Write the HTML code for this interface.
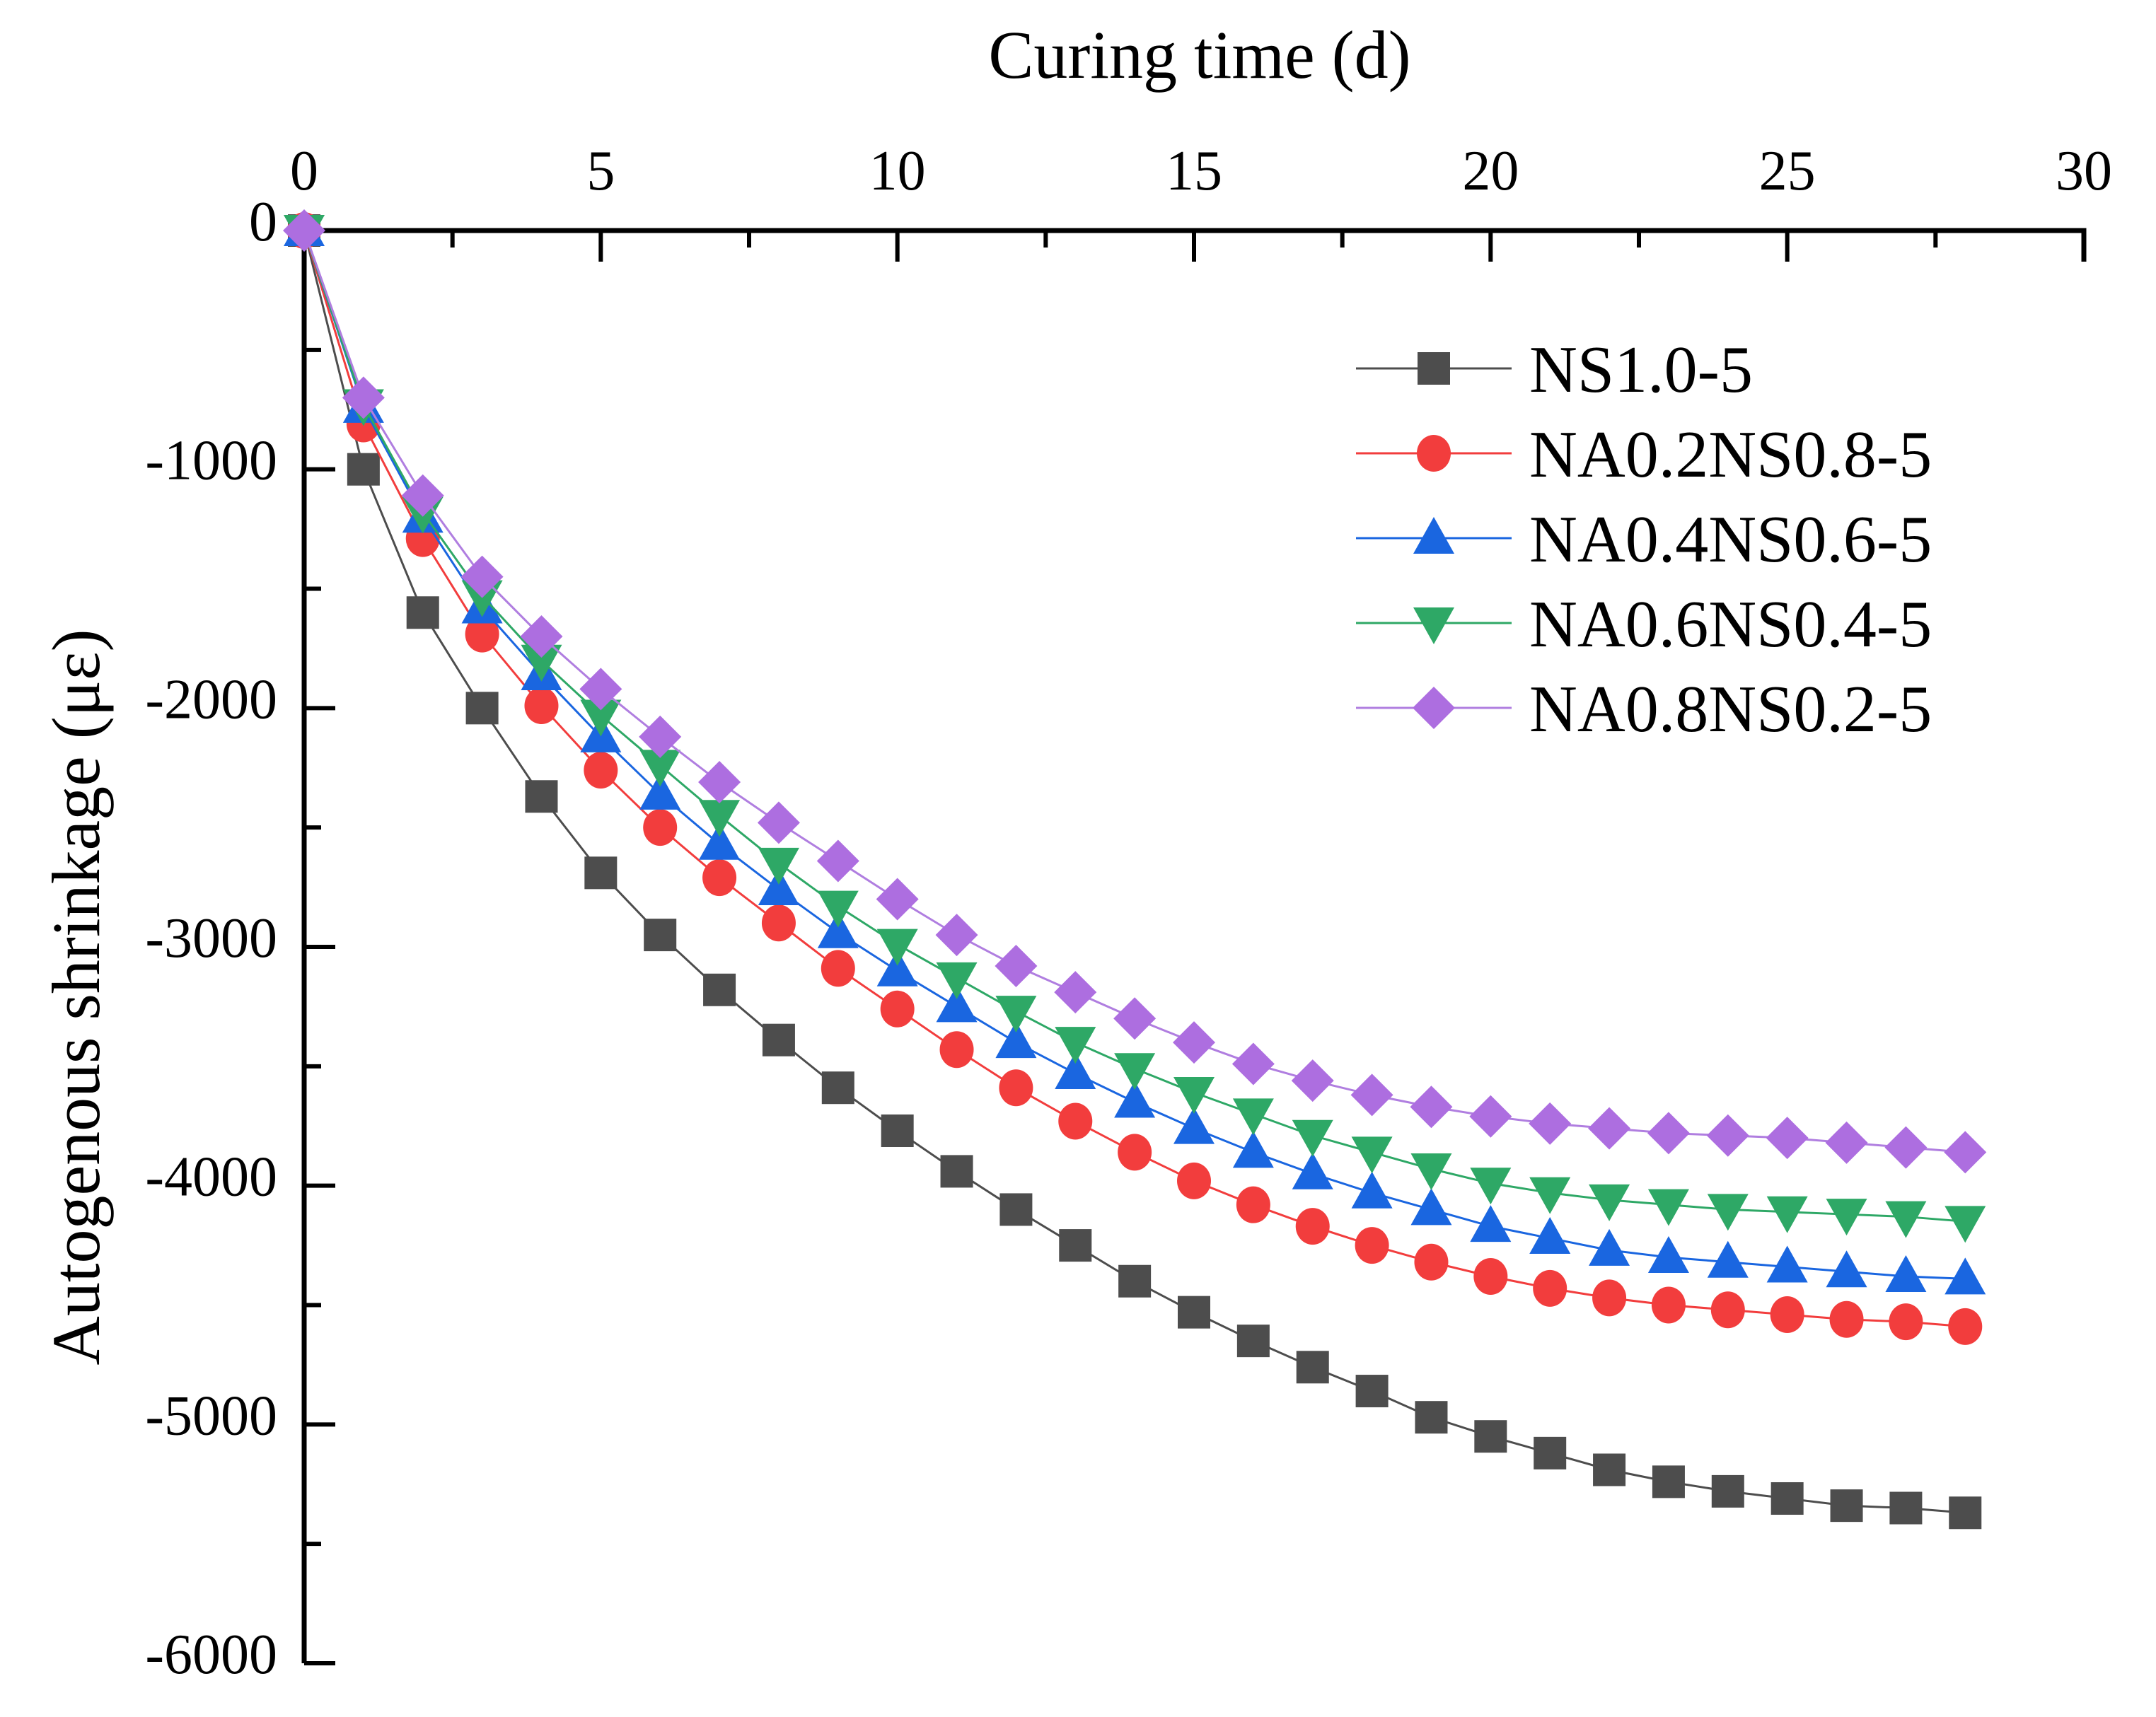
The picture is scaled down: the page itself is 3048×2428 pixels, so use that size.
<!DOCTYPE html>
<html><head><meta charset="utf-8"><style>
html,body{margin:0;padding:0;background:#fff;}
svg{display:block;font-family:"Liberation Serif",serif;}
</style></head><body>
<svg id="chart" width="3048" height="2428" viewBox="0 0 3048 2428" xmlns="http://www.w3.org/2000/svg"></svg>
<script>
const days = [0,1,2,3,4,5,6,7,8,9,10,11,12,13,14,15,16,17,18,19,20,21,22,23,24,25,26,27,28];
const seriesNames = ["NS1.0-5","NA0.2NS0.8-5","NA0.4NS0.6-5","NA0.6NS0.4-5","NA0.8NS0.2-5"];
const ns10 = [0,-1000,-1600,-2000,-2370,-2690,-2950,-3180,-3390,-3590,-3770,-3940,-4100,-4250,-4400,-4530,-4650,-4760,-4860,-4970,-5050,-5120,-5190,-5240,-5280,-5310,-5340,-5350,-5370];
const na02 = [0,-810,-1290,-1690,-1990,-2260,-2500,-2710,-2900,-3090,-3260,-3430,-3590,-3730,-3860,-3980,-4080,-4170,-4250,-4320,-4380,-4430,-4470,-4500,-4520,-4540,-4560,-4570,-4590];
const na04 = [0,-740,-1200,-1580,-1860,-2120,-2360,-2570,-2760,-2940,-3100,-3250,-3400,-3530,-3650,-3760,-3860,-3950,-4030,-4100,-4170,-4220,-4270,-4300,-4320,-4340,-4360,-4380,-4390];
const na06 = [0,-730,-1180,-1530,-1800,-2030,-2240,-2450,-2650,-2830,-2990,-3130,-3270,-3400,-3510,-3610,-3700,-3790,-3860,-3930,-3990,-4030,-4060,-4080,-4100,-4110,-4120,-4130,-4150];
const na08 = [0,-700,-1110,-1450,-1700,-1920,-2120,-2310,-2480,-2640,-2800,-2950,-3080,-3190,-3300,-3400,-3490,-3560,-3620,-3670,-3710,-3740,-3760,-3780,-3790,-3800,-3820,-3840,-3860];
const xTicks = [0,5,10,15,20,25,30];
const yTicks = [0,-1000,-2000,-3000,-4000,-5000,-6000];

const svg = document.getElementById('chart');
const NS = 'http://www.w3.org/2000/svg';
const X0=430, X1=2946, Y0=326, Y1=2352;
const xs = v => X0 + (v-0)/30*(X1-X0);
const ys = v => Y0 + (0-v)/6000*(Y1-Y0);
function mk(tag, attrs, parent){const e=document.createElementNS(NS,tag);for(const k in attrs)e.setAttribute(k,attrs[k]);(parent||svg).appendChild(e);return e;}

const ax = mk('path',{d:`M${X0},${Y1} L${X0},${Y0} L${X1},${Y0} L${X1},${Y0+44}`,fill:'none',stroke:'#000','stroke-width':7});


for(let v=0; v<=30; v+=2.5){
  const major = v%5===0;
  const t = mk('line',{x1:xs(v),y1:Y0,x2:xs(v),y2:Y0+(major?44:24),stroke:'#000','stroke-width':6});
  
  
}
xTicks.forEach(v=>{
  const t = mk('text',{x:xs(v),y:268,'font-size':80,'text-anchor':'middle'});
  t.textContent=v;
  
  
});
for(let v=0; v>=-6000; v-=500){
  const major = v%1000===0;
  const t = mk('line',{x1:X0,y1:ys(v),x2:X0+(major?44:24),y2:ys(v),stroke:'#000','stroke-width':6});
  
  
}
yTicks.forEach(v=>{
  const t = mk('text',{x:392,y:ys(v)+14,'font-size':80,'text-anchor':'end'});
  t.textContent=v;
  
  
});
const xt = mk('text',{x:1696,y:110,'font-size':96,'text-anchor':'middle'});
xt.textContent='Curing time (d)';


const yt = mk('text',{x:0,y:0,'font-size':96,'text-anchor':'middle',transform:'translate(140,1410) rotate(-90)'});
yt.textContent='Autogenous shrinkage (\u03bc\u03b5)';



const colors = ['#4d4d4d','#f23d3d','#1a66e0','#2ea866','#ad6ee0'];
const lineColors = ['#4d4d4d','#f23d3d','#1a66e0','#2ea866','#b07ee0'];
const shapes = ['square','circle','tri','tridown','diamond'];
const allData = [ns10,na02,na04,na06,na08];

function marker(shape,x,y,color,g){
  const s=23;
  if(shape==='square') return mk('rect',{x:x-s,y:y-s,width:2*s,height:2*s,fill:color},g);
  if(shape==='circle') return mk('ellipse',{cx:x,cy:y,rx:24,ry:26,fill:color},g);
  if(shape==='tri') return mk('polygon',{points:`${x},${y-30} ${x+29},${y+22} ${x-29},${y+22}`,fill:color},g);
  if(shape==='tridown') return mk('polygon',{points:`${x-29},${y-22} ${x+29},${y-22} ${x},${y+30}`,fill:color},g);
  return mk('polygon',{points:`${x},${y-30} ${x+30},${y} ${x},${y+30} ${x-30},${y}`,fill:color},g);
}

allData.forEach((data,i)=>{
  const g = mk('g',{});
  
  
  const pl = mk('polyline',{points:days.map((d,j)=>xs(d)+','+ys(data[j])).join(' '),fill:'none',stroke:lineColors[i],'stroke-width':3},g);
  
  
  days.forEach((d,j)=>{
    const m = marker(shapes[i],xs(d),ys(data[j]),colors[i],g);
    
    
  });
});

const lg = mk('g',{});


seriesNames.forEach((n,i)=>{
  const y = 521 + i*120;
  const e = mk('g',{},lg);
  
  
  mk('line',{x1:1917,y1:y,x2:2137,y2:y,stroke:lineColors[i],'stroke-width':3},e);
  marker(shapes[i],2027,y,colors[i],e);
  const t = mk('text',{x:2162,y:y+33,'font-size':94},e);
  t.textContent=n;
});
</script>
</body></html>
